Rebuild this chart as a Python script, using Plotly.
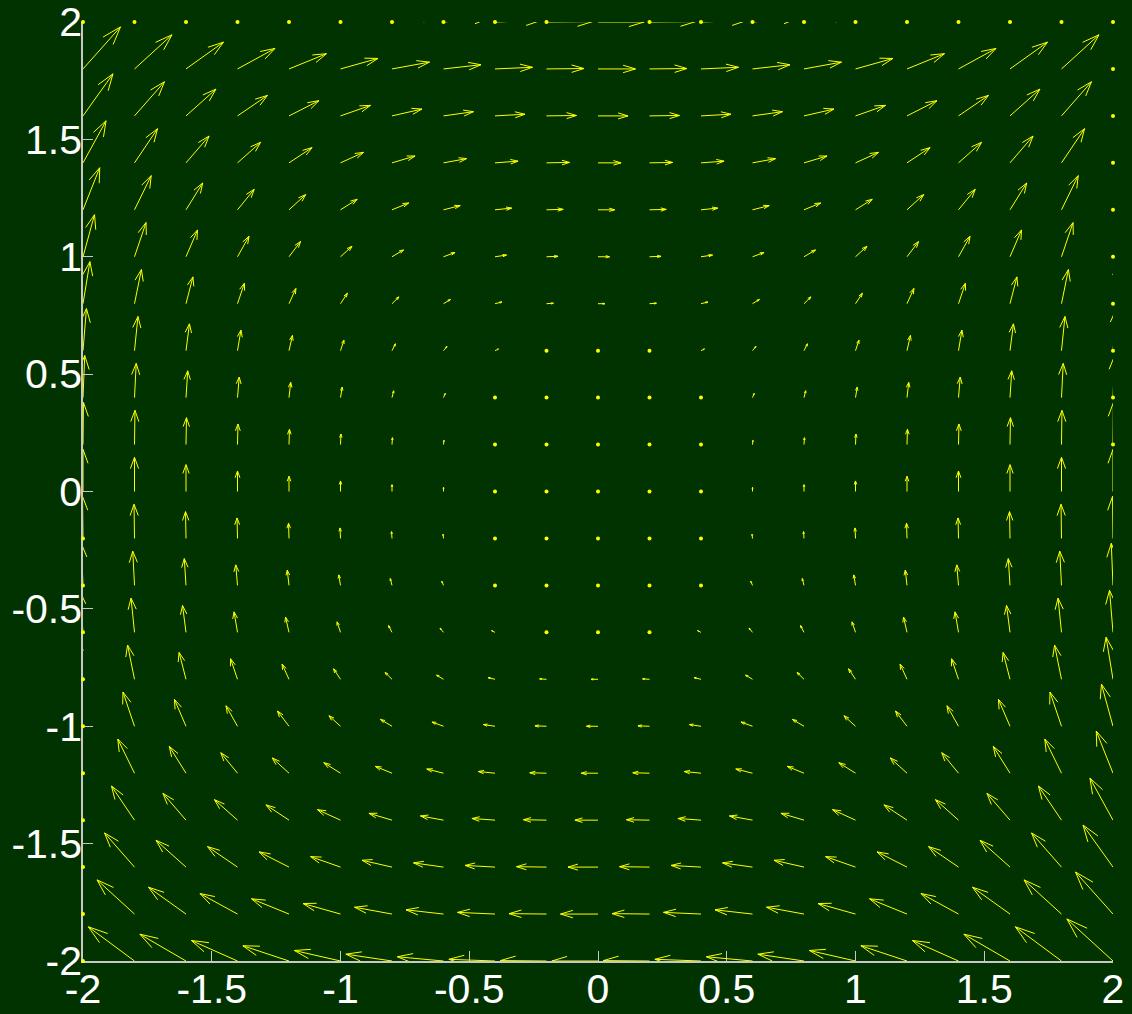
import plotly.graph_objects as go

# Grid of arrow base points
x_vals = [-2.0, -1.8, -1.6, -1.4, -1.2, -1.0, -0.8, -0.6, -0.4, -0.2, 0.0,
          0.2, 0.4, 0.6, 0.8, 1.0, 1.2, 1.4, 1.6, 1.8, 2.0]
y_vals = [-2.0, -1.8, -1.6, -1.4, -1.2, -1.0, -0.8, -0.6, -0.4, -0.2, 0.0,
          0.2, 0.4, 0.6, 0.8, 1.0, 1.2, 1.4, 1.6, 1.8, 2.0]

# Horizontal component (same along each row, indexed by y)
u_by_row = [-4.0, -3.25, -2.6, -2.0, -1.45, -1.0, -0.6, -0.3, -0.15, -0.04, 0.0,
            0.04, 0.15, 0.3, 0.6, 1.0, 1.45, 2.0, 2.6, 3.25, 4.0]
# Vertical component (same along each column, indexed by x)
v_by_col = [4.0, 3.25, 2.55, 1.95, 1.45, 1.0, 0.65, 0.4, 0.16, 0.04, 0.0,
            0.04, 0.16, 0.4, 0.65, 1.0, 1.45, 1.95, 2.55, 3.25, 4.0]

tick_vals = [-2, -1.5, -1, -0.5, 0, 0.5, 1, 1.5, 2]
tick_text = ["-2", "-1.5", "-1", "-0.5", "0", "0.5", "1", "1.5", "2"]

# quiver styling
SCALE = 0.0448      # autoscale factor of the arrows
ALPHA = 0.33        # head length relative to arrow
BETA = 0.33         # head half-width relative to head
DOT_LIMIT = 0.014   # arrows shorter than this render as dots

BG = "#003300"
ARROW = "#ffff00"
AXIS = "#c8c8c8"

lx, ly = [], []
dot_x, dot_y = [], []
for j, yb in enumerate(y_vals):
    for i, xb in enumerate(x_vals):
        u = SCALE * u_by_row[j]
        v = SCALE * v_by_col[i]
        mag = (u * u + v * v) ** 0.5
        outward = ((yb >= 2.0 and v > 0) or (yb <= -2.0 and v < 0)
                   or (xb <= -2.0 and u < 0) or (xb >= 2.0 and u > 0))
        if mag < DOT_LIMIT or outward:
            dot_x.append(xb)
            dot_y.append(yb)
        if mag < DOT_LIMIT:
            continue
        tx, ty = xb + u, yb + v
        # shaft
        lx += [xb, tx, None]
        ly += [yb, ty, None]
        # head
        h1x = tx - ALPHA * (u + BETA * v)
        h1y = ty - ALPHA * (v - BETA * u)
        h2x = tx - ALPHA * (u - BETA * v)
        h2y = ty - ALPHA * (v + BETA * u)
        lx += [h1x, tx, h2x, None]
        ly += [h1y, ty, h2y, None]

fig = go.Figure()
fig.add_trace(go.Scatter(x=lx, y=ly, mode="lines",
                         line=dict(color=ARROW, width=1),
                         hoverinfo="skip", showlegend=False))
fig.add_trace(go.Scatter(x=dot_x, y=dot_y, mode="markers",
                         marker=dict(color=ARROW, size=4),
                         cliponaxis=False, hoverinfo="skip", showlegend=False))

axis_common = dict(
    range=[-2, 2], showgrid=False, zeroline=False,
    showline=True, linecolor=AXIS, linewidth=1.5,
    ticks="inside", ticklen=10, tickcolor=AXIS, tickwidth=1,
    tickvals=tick_vals, ticktext=tick_text,
    tickfont=dict(family="Liberation Sans", size=41, color="white"),
    ticklabeloverflow="allow",
    layer="below traces", fixedrange=True, automargin=False,
)

fig.update_layout(
    width=1132, height=1014,
    paper_bgcolor=BG, plot_bgcolor=BG,
    margin=dict(l=83, r=19, t=22, b=53, autoexpand=False),
    xaxis=dict(**axis_common, ticklabelstandoff=-9),
    yaxis=dict(**axis_common, ticklabelstandoff=-9),
    showlegend=False,
)

fig.write_html(
    "out.html",
    config={"displayModeBar": False},
    post_script="document.body.style.margin='0';document.body.style.padding='0';"
                "document.body.style.background='#003300';",
)
